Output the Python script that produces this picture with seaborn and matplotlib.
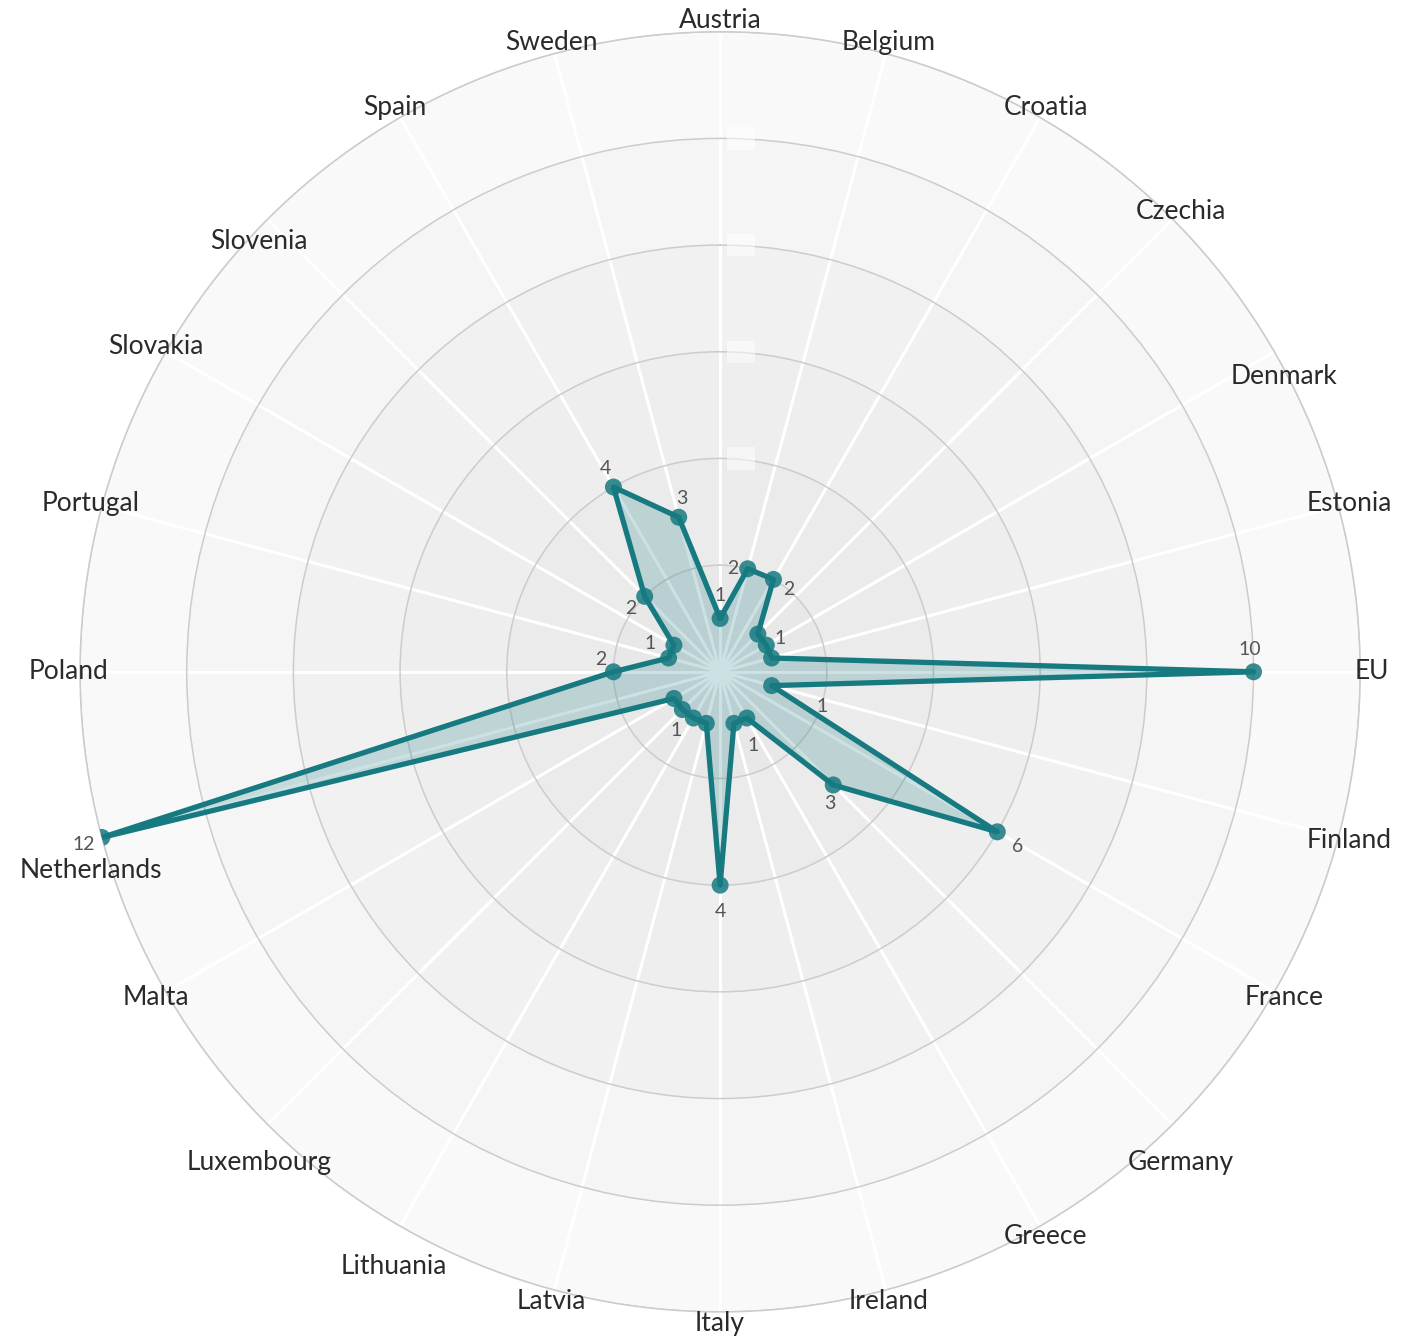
import numpy as np
import pandas as pd
import seaborn as sns
import matplotlib.pyplot as plt

countries = ["Austria", "Belgium", "Croatia", "Czechia", "Denmark", "Estonia",
             "EU", "Finland", "France", "Germany", "Greece", "Ireland",
             "Italy", "Latvia", "Lithuania", "Luxembourg", "Malta", "Netherlands",
             "Poland", "Portugal", "Slovakia", "Slovenia", "Spain", "Sweden"]
values = [1, 2, 2, 1, 1, 1,
          10, 1, 6, 3, 1, 1,
          4, 1, 1, 1, 1, 12,
          2, 1, 1, 2, 4, 3]

# value labels that are shown, with pixel offsets (dx right, dy down)
label_offsets = {
    "Austria": (0, -23), "Belgium": (-15, 0), "Croatia": (15, 10),
    "Czechia": (22, 4), "EU": (-4, -22), "Finland": (50, 21),
    "France": (20, 15), "Germany": (-3, 19), "Greece": (6, 28),
    "Italy": (0, 26), "Lithuania": (-17, 13), "Netherlands": (-18, 7),
    "Poland": (-13, -12), "Portugal": (-18, -14), "Slovenia": (-14, 12),
    "Spain": (-8, -19), "Sweden": (3, -19),
}
# category labels that sit one notch lower in the original
lowered = {"Slovenia", "Denmark", "Luxembourg", "Germany", "Lithuania", "Netherlands"}

teal = "#167a80"
rmax = 12

sns.set_theme(style="white")
plt.rcParams["font.family"] = ["Lato", "DejaVu Sans"]

n = len(countries)
theta = np.arange(n) * 2 * np.pi / n
df = pd.DataFrame({"country": countries, "theta": theta, "value": values})
closed = pd.concat([df, df.iloc[[0]]], ignore_index=True)
closed.loc[len(closed) - 1, "theta"] = 2 * np.pi

fig = plt.figure(figsize=(14.24, 13.42), dpi=100)
ax = fig.add_axes([0.0562, 0.0224, 0.899, 0.954], projection="polar")
ax.set_theta_zero_location("N")
ax.set_theta_direction(-1)
ax.set_ylim(0, rmax)
ax.set_facecolor("none")
ax.set_axisbelow(True)

# concentric grey bands, darker toward the centre
band_cols = ["#e8e8e8", "#ebebeb", "#eeeeee", "#f1f1f1", "#f5f5f5", "#f9f9f9"]
for i, c in enumerate(band_cols):
    ax.bar(0, 2, width=2 * np.pi, bottom=2 * i, color=c, edgecolor="none",
           align="edge", zorder=0.1)

ax.set_xticks(theta)
ax.set_xticklabels([])
ax.set_yticks(np.arange(2, rmax + 1, 2))
ax.set_yticklabels([])
ax.xaxis.grid(True, color="white", lw=2.2)
ax.yaxis.grid(True, color="#cccccc", lw=1.1)
ax.spines["polar"].set_color("#cccccc")
ax.spines["polar"].set_linewidth(1.1)
ax.tick_params(pad=0)

# blank radial tick label boxes along the top spoke
for r in np.arange(4, rmax, 2):
    ax.annotate("00", (0, r), xytext=(21, 0), textcoords="offset pixels",
                ha="center", va="center", fontsize=14, color="none",
                bbox=dict(fc="white", ec="none", alpha=0.5, pad=2), zorder=0.6)

ax.fill(closed["theta"], closed["value"], color=teal, alpha=0.22, lw=0, zorder=2)
sns.lineplot(data=closed, x="theta", y="value", sort=False, ax=ax,
             color=teal, lw=3.8, zorder=3)
sns.scatterplot(data=df, x="theta", y="value", ax=ax, color=teal, s=150,
                alpha=0.85, edgecolor="none", zorder=4)
ax.set_xlabel("")
ax.set_ylabel("")

for c, t, v in zip(countries, theta, values):
    if c in label_offsets:
        dx, dy = label_offsets[c]
        ax.annotate(str(v), (t, v), xytext=(dx, -dy), textcoords="offset pixels",
                    ha="center", va="center", fontsize=14, color="#555555", zorder=5)
    dy = -30 if c in lowered else 0
    ax.annotate(c, (t, rmax * 1.018), xytext=(0, dy), textcoords="offset pixels",
                ha="center", va="center", fontsize=19, color="#2a2a2a",
                annotation_clip=False)

fig.savefig("out.png", dpi=100, facecolor="white")
